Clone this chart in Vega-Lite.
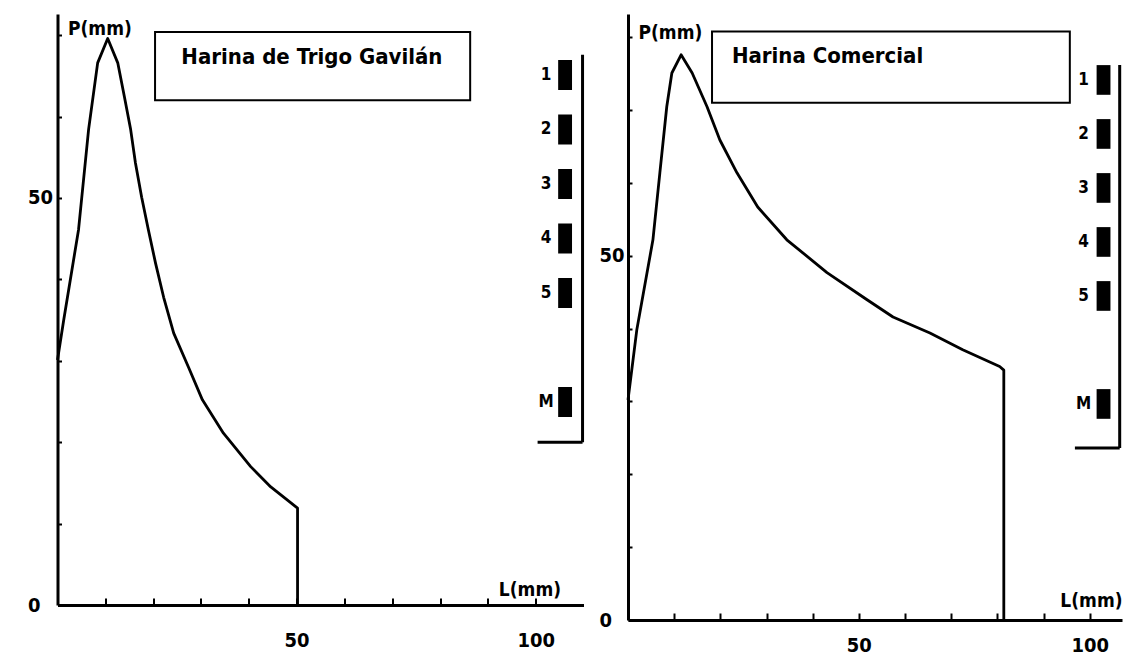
{
  "$schema": "https://vega.github.io/schema/vega-lite/v6.json",
  "padding": {"left": 27.5, "top": 14, "right": 0, "bottom": 0},
  "background": "white",
  "datasets": {
    "gavilan": [
      {"i": 0, "L": 0, "P": 30.1}, {"i": 1, "L": 1.3, "P": 35.0}, {"i": 2, "L": 4.4, "P": 46.1},
      {"i": 3, "L": 6.5, "P": 58.4}, {"i": 4, "L": 8.4, "P": 66.6}, {"i": 5, "L": 10.5, "P": 69.6},
      {"i": 6, "L": 12.6, "P": 66.6}, {"i": 7, "L": 14.0, "P": 62.4}, {"i": 8, "L": 15.3, "P": 58.4},
      {"i": 9, "L": 16.3, "P": 54.3}, {"i": 10, "L": 17.6, "P": 50.1}, {"i": 11, "L": 19.0, "P": 46.1},
      {"i": 12, "L": 20.5, "P": 42.0}, {"i": 13, "L": 22.2, "P": 37.8}, {"i": 14, "L": 24.3, "P": 33.4},
      {"i": 15, "L": 27.4, "P": 29.2}, {"i": 16, "L": 30.3, "P": 25.2}, {"i": 17, "L": 34.7, "P": 21.1},
      {"i": 18, "L": 40.4, "P": 17.0}, {"i": 19, "L": 44.6, "P": 14.5}, {"i": 20, "L": 50.2, "P": 11.9},
      {"i": 21, "L": 50.2, "P": 0}
    ],
    "comercial": [
      {"i": 0, "L": 0, "P": 30.2}, {"i": 1, "L": 1.9, "P": 39.8}, {"i": 2, "L": 5.4, "P": 52.2},
      {"i": 3, "L": 6.9, "P": 61.4}, {"i": 4, "L": 8.4, "P": 70.5}, {"i": 5, "L": 9.5, "P": 75.1},
      {"i": 6, "L": 11.5, "P": 77.6}, {"i": 7, "L": 13.9, "P": 75.1}, {"i": 8, "L": 17.1, "P": 70.5},
      {"i": 9, "L": 19.9, "P": 65.9}, {"i": 10, "L": 23.6, "P": 61.4}, {"i": 11, "L": 28.1, "P": 56.7},
      {"i": 12, "L": 34.4, "P": 52.2}, {"i": 13, "L": 43.1, "P": 47.7}, {"i": 14, "L": 51.7, "P": 44.0},
      {"i": 15, "L": 57.4, "P": 41.6}, {"i": 16, "L": 65.4, "P": 39.4}, {"i": 17, "L": 72.5, "P": 37.1},
      {"i": 18, "L": 80.5, "P": 34.8}, {"i": 19, "L": 81.4, "P": 34.3}, {"i": 20, "L": 81.4, "P": 0}
    ],
    "ensayos": [
      {"ensayo": "1"}, {"ensayo": "2"}, {"ensayo": "3"}, {"ensayo": "4"}, {"ensayo": "5"}, {"ensayo": "M"}
    ]
  },
  "hconcat": [
    {
      "width": 526,
      "height": 591,
      "layer": [
        {
          "layer": [
            {
              "data": {"name": "gavilan"},
              "mark": {"type": "line", "color": "black", "strokeWidth": 2.8, "strokeJoin": "round"},
              "encoding": {
                "x": {"field": "L", "type": "quantitative", "scale": {"domain": [0, 110], "nice": false},
                  "axis": {"values": [10, 20, 30, 40, 50, 60, 70, 80, 90, 100],
                    "labelExpr": "datum.value == 50 || datum.value == 100 ? datum.label : ''",
                    "tickSize": -7, "labelPadding": 32, "title": "L(mm)",
                    "titleX": 503, "titleY": -16, "titleAlign": "right", "titleBaseline": "middle", "titleAnchor": null}},
                "y": {"field": "P", "type": "quantitative", "scale": {"domain": [0, 72.6], "nice": false},
                  "axis": {"values": [0, 10, 20, 30, 40, 50, 60, 70],
                    "labelExpr": "datum.value == 0 || datum.value == 50 ? datum.label : ''",
                    "tickSize": -4, "labelPadding": 34, "labelAlign": "left", "title": "P(mm)", "titleAngle": 0,
                    "titleX": 10, "titleY": 14, "titleAlign": "left", "titleBaseline": "middle", "titleAnchor": null}},
                "order": {"field": "i", "type": "quantitative"}
              }
            },
            {
              "data": {"values": [{"titulo": "Harina de Trigo Gavilán"}]},
              "layer": [
                {
                  "mark": {"type": "rect", "fillOpacity": 0, "stroke": "black", "strokeWidth": 2},
                  "encoding": {
                    "x": {"datum": 20.4, "type": "quantitative"}, "x2": {"datum": 86.3},
                    "y": {"datum": 70.4, "type": "quantitative"}, "y2": {"datum": 62.0}
                  }
                },
                {
                  "mark": {"type": "text", "fontSize": 22, "fontWeight": "bold", "align": "center", "baseline": "middle", "color": "black"},
                  "encoding": {
                    "x": {"datum": 53.2, "type": "quantitative"},
                    "y": {"datum": 67.3, "type": "quantitative"},
                    "text": {"field": "titulo"}
                  }
                },
                {
                  "mark": {"type": "rule", "color": "black", "strokeWidth": 3},
                  "encoding": {
                    "x": {"datum": 109.8, "type": "quantitative"},
                    "y": {"datum": 67.6, "type": "quantitative"}, "y2": {"datum": 20.0}
                  }
                },
                {
                  "mark": {"type": "rule", "color": "black", "strokeWidth": 3},
                  "encoding": {
                    "x": {"datum": 100.4, "type": "quantitative"}, "x2": {"datum": 109.8},
                    "y": {"datum": 20.0, "type": "quantitative"}
                  }
                }
              ]
            }
          ]
        },
        {
          "data": {"name": "ensayos"},
          "layer": [
            {
              "mark": {"type": "rect", "color": "black"},
              "encoding": {
                "x": {"datum": 104.7, "type": "quantitative"}, "x2": {"datum": 107.6},
                "y": {"field": "ensayo", "type": "ordinal",
                  "scale": {"type": "band", "domain": ["1", "2", "3", "4", "5", "_", "M", "a", "b", "c"], "paddingInner": 0.45, "paddingOuter": 0.647, "align": 0.652},
                  "axis": null}
              }
            },
            {
              "mark": {"type": "text", "fontSize": 17, "fontWeight": "bold", "align": "center", "baseline": "middle", "color": "black"},
              "encoding": {
                "x": {"datum": 102.2, "type": "quantitative"},
                "y": {"field": "ensayo", "type": "ordinal",
                  "scale": {"type": "band", "domain": ["1", "2", "3", "4", "5", "_", "M", "a", "b", "c"], "paddingInner": 0.45, "paddingOuter": 0.647, "align": 0.652},
                  "axis": null},
                "text": {"field": "ensayo"}
              }
            }
          ]
        }
      ],
      "resolve": {"scale": {"y": "independent"}}
    },
    {
      "width": 494,
      "height": 606,
      "layer": [
        {
          "layer": [
            {
              "data": {"name": "comercial"},
              "mark": {"type": "line", "color": "black", "strokeWidth": 2.8, "strokeJoin": "round"},
              "encoding": {
                "x": {"field": "L", "type": "quantitative", "scale": {"domain": [0, 107], "nice": false},
                  "axis": {"values": [10, 20, 30, 40, 50, 60, 70, 80, 90, 100],
                    "labelExpr": "datum.value == 50 || datum.value == 100 ? datum.label : ''",
                    "tickSize": -7, "labelPadding": 22, "title": "L(mm)",
                    "titleX": 494, "titleY": -20, "titleAlign": "right", "titleBaseline": "middle", "titleAnchor": null}},
                "y": {"field": "P", "type": "quantitative", "scale": {"domain": [0, 83.2], "nice": false},
                  "axis": {"values": [0, 10, 20, 30, 40, 50, 60, 70, 80],
                    "labelExpr": "datum.value == 0 || datum.value == 50 ? datum.label : ''",
                    "tickSize": -4, "labelPadding": 33, "labelAlign": "left", "title": "P(mm)", "titleAngle": 0,
                    "titleX": 10, "titleY": 18, "titleAlign": "left", "titleBaseline": "middle", "titleAnchor": null}},
                "order": {"field": "i", "type": "quantitative"}
              }
            },
            {
              "data": {"values": [{"titulo": "Harina Comercial"}]},
              "layer": [
                {
                  "mark": {"type": "rect", "fillOpacity": 0, "stroke": "black", "strokeWidth": 2},
                  "encoding": {
                    "x": {"datum": 18.2, "type": "quantitative"}, "x2": {"datum": 95.7},
                    "y": {"datum": 80.8, "type": "quantitative"}, "y2": {"datum": 71.0}
                  }
                },
                {
                  "mark": {"type": "text", "fontSize": 22, "fontWeight": "bold", "align": "left", "baseline": "middle", "color": "black"},
                  "encoding": {
                    "x": {"datum": 22.5, "type": "quantitative"},
                    "y": {"datum": 77.5, "type": "quantitative"},
                    "text": {"field": "titulo"}
                  }
                },
                {
                  "mark": {"type": "rule", "color": "black", "strokeWidth": 3},
                  "encoding": {
                    "x": {"datum": 106.5, "type": "quantitative"},
                    "y": {"datum": 76.2, "type": "quantitative"}, "y2": {"datum": 23.6}
                  }
                },
                {
                  "mark": {"type": "rule", "color": "black", "strokeWidth": 3},
                  "encoding": {
                    "x": {"datum": 96.8, "type": "quantitative"}, "x2": {"datum": 106.5},
                    "y": {"datum": 23.6, "type": "quantitative"}
                  }
                }
              ]
            }
          ]
        },
        {
          "data": {"name": "ensayos"},
          "layer": [
            {
              "mark": {"type": "rect", "color": "black"},
              "encoding": {
                "x": {"datum": 101.5, "type": "quantitative"}, "x2": {"datum": 104.5},
                "y": {"field": "ensayo", "type": "ordinal",
                  "scale": {"type": "band", "domain": ["1", "2", "3", "4", "5", "_", "M", "a", "b", "c"], "paddingInner": 0.45, "paddingOuter": 0.836, "align": 0.566},
                  "axis": null}
              }
            },
            {
              "mark": {"type": "text", "fontSize": 17, "fontWeight": "bold", "align": "center", "baseline": "middle", "color": "black"},
              "encoding": {
                "x": {"datum": 98.7, "type": "quantitative"},
                "y": {"field": "ensayo", "type": "ordinal",
                  "scale": {"type": "band", "domain": ["1", "2", "3", "4", "5", "_", "M", "a", "b", "c"], "paddingInner": 0.45, "paddingOuter": 0.836, "align": 0.566},
                  "axis": null},
                "text": {"field": "ensayo"}
              }
            }
          ]
        }
      ],
      "resolve": {"scale": {"y": "independent"}}
    }
  ],
  "spacing": 44.5,
  "bounds": "flush",
  "config": {
    "view": {"stroke": null},
    "font": "Liberation Sans Narrow, DejaVu Sans Condensed, Open Sans, sans-serif",
    "text": {"font": "Liberation Sans Narrow, DejaVu Sans Condensed, Open Sans, sans-serif"},
    "axis": {
      "domainColor": "black", "domainWidth": 3, "tickColor": "black", "tickWidth": 2,
      "labelColor": "black", "labelFontWeight": "bold", "labelFontSize": 20,
      "labelFont": "Liberation Sans Narrow, DejaVu Sans Condensed, Open Sans, sans-serif",
      "titleColor": "black", "titleFontWeight": "bold", "titleFontSize": 19,
      "titleFont": "Liberation Sans Narrow, DejaVu Sans Condensed, Open Sans, sans-serif",
      "grid": false
    }
  }
}
